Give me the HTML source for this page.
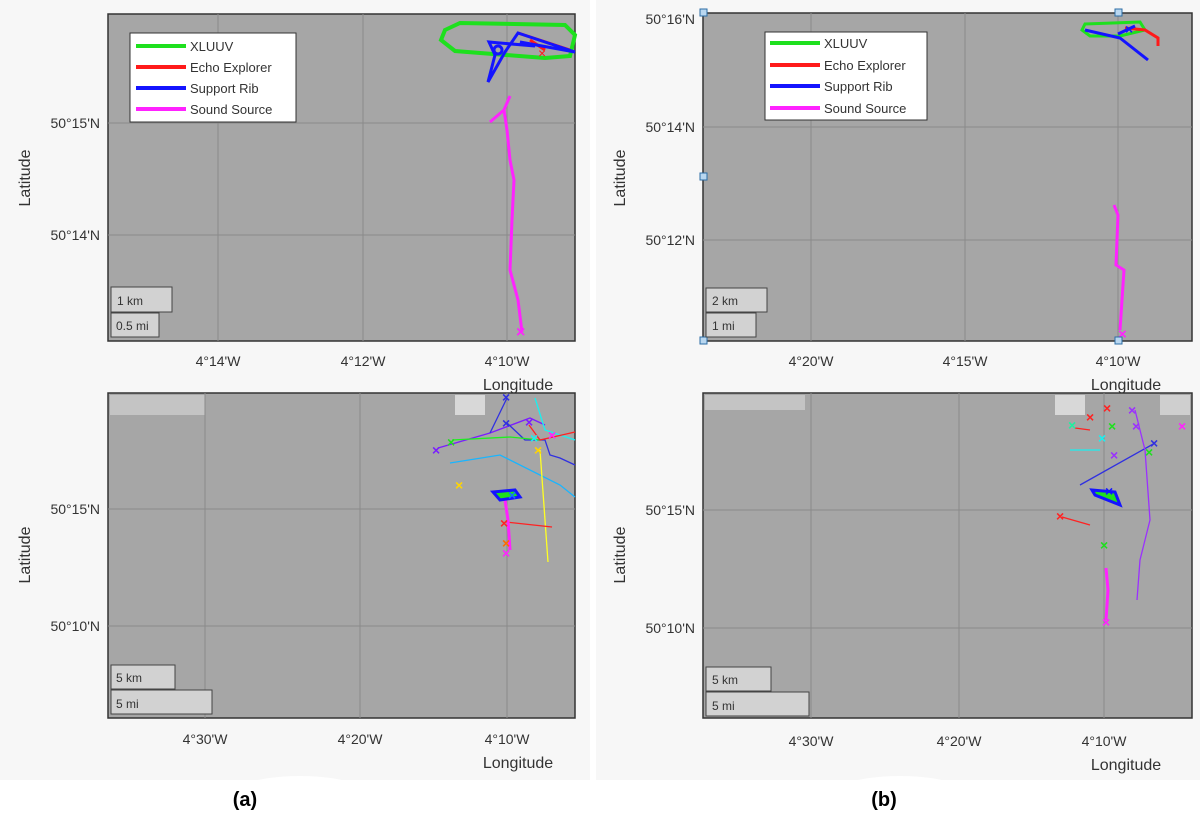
<!DOCTYPE html>
<html><head><meta charset="utf-8"><style>
body{margin:0;width:1200px;height:821px;background:#fff;overflow:hidden}
svg{display:block}
text{font-family:"Liberation Sans",sans-serif;fill:#333}
</style></head><body>
<svg width="1200" height="821" viewBox="0 0 1200 821">
<rect x="0" y="0" width="590" height="780" fill="#f7f7f7"/>
<rect x="596" y="0" width="604" height="780" fill="#f7f7f7"/>
<ellipse cx="300" cy="790" rx="60" ry="14" fill="#fff"/>
<ellipse cx="900" cy="790" rx="60" ry="14" fill="#fff"/>

<!-- Top-left axes -->
<rect x="108" y="14" width="467" height="327" fill="#a6a6a6" stroke="#333" stroke-width="1.5"/>
<g stroke="#8a8a8a" stroke-width="1"><line x1="218" y1="14" x2="218" y2="341"/><line x1="363" y1="14" x2="363" y2="341"/><line x1="507" y1="14" x2="507" y2="341"/><line x1="108" y1="123" x2="575" y2="123"/><line x1="108" y1="235" x2="575" y2="235"/></g>
<path d="M445,30 L460,23 L565,25 L575,35 L570,56 L545,58 L455,51 L441,40 Z" fill="none" stroke="#1ee01e" stroke-width="4"/>
<path d="M518,33 L570,50 M530,40 L545,50" stroke="#ff1a1a" stroke-width="3"/>
<path d="M575,52 L518,33 L505,52 L488,82 L495,55 L489,42 L500,43 L535,46 L520,42 Z" fill="none" stroke="#1414ff" stroke-width="3"/>
<circle cx="498" cy="50" r="4" fill="none" stroke="#1414ff" stroke-width="3"/>
<text x="538" y="58" fill="#ff1a1a" style="fill:#ff1a1a;font-size:14px">×</text>
<path d="M510,96 L504,110 L490,122 M504,110 L507,130 L510,160 L514,180 L512,220 L510,270 L518,300 L522,332" fill="none" stroke="#ff22ff" stroke-width="3"/>
<text x="516" y="337" style="fill:#ff22ff;font-size:16px;font-weight:bold">×</text>
<rect x="130" y="33" width="166" height="89" fill="#fff" stroke="#333"/>
<g stroke-width="4"><line x1="136" y1="46" x2="186" y2="46" stroke="#1ee01e"/><line x1="136" y1="67" x2="186" y2="67" stroke="#ff1a1a"/><line x1="136" y1="88" x2="186" y2="88" stroke="#1414ff"/><line x1="136" y1="109" x2="186" y2="109" stroke="#ff22ff"/></g>
<g font-size="13"><text x="190" y="51">XLUUV</text><text x="190" y="72">Echo Explorer</text><text x="190" y="93">Support Rib</text><text x="190" y="114">Sound Source</text></g>
<rect x="111" y="287" width="61" height="25" fill="#d2d2d2" stroke="#444"/><text x="117" y="305" font-size="12">1 km</text>
<rect x="111" y="313" width="48" height="24" fill="#d2d2d2" stroke="#444"/><text x="116" y="330" font-size="12">0.5 mi</text>
<g font-size="14" text-anchor="end"><text x="100" y="128">50°15'N</text><text x="100" y="240">50°14'N</text></g>
<g font-size="14" text-anchor="middle"><text x="218" y="366">4°14'W</text><text x="363" y="366">4°12'W</text><text x="507" y="366">4°10'W</text></g>
<text x="518" y="390" font-size="16" text-anchor="middle">Longitude</text>
<text transform="translate(30,178) rotate(-90)" font-size="16" text-anchor="middle">Latitude</text>

<!-- Bottom-left axes -->
<rect x="108" y="393" width="467" height="325" fill="#a6a6a6" stroke="#333" stroke-width="1.5"/>
<rect x="110" y="395" width="95" height="20" fill="#c4c4c4"/><rect x="455" y="395" width="30" height="20" fill="#d8d8d8"/>
<g stroke="#8a8a8a"><line x1="205" y1="393" x2="205" y2="718"/><line x1="360" y1="393" x2="360" y2="718"/><line x1="507" y1="393" x2="507" y2="718"/><line x1="108" y1="509" x2="575" y2="509"/><line x1="108" y1="626" x2="575" y2="626"/></g>
<g fill="none" stroke-width="1.3">
<path d="M450,463 L500,455 L560,485 L575,497" stroke="#19b5ff"/>
<path d="M438,448 L490,433 L530,418 L545,425" stroke="#7a1cff"/>
<path d="M507,398 L490,433 M507,423 L525,440 L545,440 L550,455 L560,458 L575,465" stroke="#3030e0"/>
<path d="M452,440 L510,437 L540,440" stroke="#1ef01e"/>
<path d="M535,398 L545,430 L575,440" stroke="#19f0f0"/>
<path d="M540,450 L548,562" stroke="#ffff22"/>
<path d="M506,522 L552,527" stroke="#ff2222"/>
<path d="M529,425 L540,440 L575,432" stroke="#ff2222"/>
</g>
<path d="M505,500 L508,520 L510,550" stroke="#ff22ff" stroke-width="3" fill="none"/>
<path d="M493,492 L515,490 L520,497 L500,500 Z" stroke="#1414ff" stroke-width="3" fill="#1ee01e"/>
<g font-size="14" font-weight="bold" style="font-weight:bold">
<text x="502" y="402" style="fill:#3030e0">×</text><text x="502" y="428" style="fill:#3030e0">×</text>
<text x="432" y="455" style="fill:#7a1cff">×</text><text x="447" y="447" style="fill:#1ee01e">×</text>
<text x="455" y="490" style="fill:#ffd500">×</text><text x="534" y="455" style="fill:#ffd500">×</text>
<text x="530" y="443" style="fill:#19f0f0">×</text><text x="548" y="440" style="fill:#ff22ff">×</text>
<text x="525" y="427" style="fill:#7a1cff">×</text><text x="500" y="528" style="fill:#ff2222">×</text>
<text x="502" y="548" style="fill:#ff6a00">×</text><text x="502" y="558" style="fill:#ff22ff">×</text>
<text x="508" y="500" style="fill:#1470ff">×</text>
</g>
<rect x="111" y="665" width="64" height="24" fill="#d2d2d2" stroke="#444"/><text x="116" y="682" font-size="12">5 km</text>
<rect x="111" y="690" width="101" height="24" fill="#d2d2d2" stroke="#444"/><text x="116" y="708" font-size="12">5 mi</text>
<g font-size="14" text-anchor="end"><text x="100" y="514">50°15'N</text><text x="100" y="631">50°10'N</text></g>
<g font-size="14" text-anchor="middle"><text x="205" y="744">4°30'W</text><text x="360" y="744">4°20'W</text><text x="507" y="744">4°10'W</text></g>
<text x="518" y="768" font-size="16" text-anchor="middle">Longitude</text>
<text transform="translate(30,555) rotate(-90)" font-size="16" text-anchor="middle">Latitude</text>

<!-- Top-right axes -->
<rect x="703" y="13" width="489" height="328" fill="#a6a6a6" stroke="#333" stroke-width="1.5"/>
<g stroke="#8a8a8a"><line x1="811" y1="13" x2="811" y2="341"/><line x1="965" y1="13" x2="965" y2="341"/><line x1="1118" y1="13" x2="1118" y2="341"/><line x1="703" y1="127" x2="1192" y2="127"/><line x1="703" y1="240" x2="1192" y2="240"/></g>
<path d="M1085,24 L1140,22 L1145,30 L1120,36 L1090,36 L1082,30 Z" fill="none" stroke="#1ee01e" stroke-width="3"/>
<path d="M1125,28 L1145,30 L1158,38 L1158,46" fill="none" stroke="#ff1a1a" stroke-width="3"/>
<path d="M1085,30 L1120,38 L1148,60 M1118,34 L1135,26" fill="none" stroke="#1414ff" stroke-width="3"/>
<text x="1125" y="34" font-size="14" style="fill:#1414ff;font-weight:bold">×</text>
<path d="M1114,205 L1118,215 L1116,265 L1124,270 L1122,300 L1120,330" fill="none" stroke="#ff22ff" stroke-width="3"/>
<text x="1118" y="339" font-size="15" style="fill:#ff22ff;font-weight:bold">×</text>
<g fill="#b9d7f0" stroke="#2c6da6"><rect x="700" y="9" width="7" height="7"/><rect x="1115" y="9" width="7" height="7"/><rect x="700" y="173" width="7" height="7"/><rect x="700" y="337" width="7" height="7"/><rect x="1115" y="337" width="7" height="7"/></g>
<rect x="765" y="32" width="162" height="88" fill="#fff" stroke="#333"/>
<g stroke-width="4"><line x1="770" y1="43" x2="820" y2="43" stroke="#1ee01e"/><line x1="770" y1="65" x2="820" y2="65" stroke="#ff1a1a"/><line x1="770" y1="86" x2="820" y2="86" stroke="#1414ff"/><line x1="770" y1="108" x2="820" y2="108" stroke="#ff22ff"/></g>
<g font-size="13"><text x="824" y="48">XLUUV</text><text x="824" y="70">Echo Explorer</text><text x="824" y="91">Support Rib</text><text x="824" y="113">Sound Source</text></g>
<rect x="706" y="288" width="61" height="24" fill="#d2d2d2" stroke="#444"/><text x="712" y="305" font-size="12">2 km</text>
<rect x="706" y="313" width="50" height="24" fill="#d2d2d2" stroke="#444"/><text x="712" y="330" font-size="12">1 mi</text>
<g font-size="14" text-anchor="end"><text x="695" y="24">50°16'N</text><text x="695" y="132">50°14'N</text><text x="695" y="245">50°12'N</text></g>
<g font-size="14" text-anchor="middle"><text x="811" y="366">4°20'W</text><text x="965" y="366">4°15'W</text><text x="1118" y="366">4°10'W</text></g>
<text x="1126" y="390" font-size="16" text-anchor="middle">Longitude</text>
<text transform="translate(625,178) rotate(-90)" font-size="16" text-anchor="middle">Latitude</text>

<!-- Bottom-right axes -->
<rect x="703" y="393" width="489" height="325" fill="#a6a6a6" stroke="#333" stroke-width="1.5"/>
<rect x="705" y="395" width="100" height="15" fill="#c4c4c4"/><rect x="1055" y="395" width="30" height="20" fill="#d8d8d8"/><rect x="1160" y="395" width="30" height="20" fill="#cfcfcf"/>
<g stroke="#8a8a8a"><line x1="811" y1="393" x2="811" y2="718"/><line x1="959" y1="393" x2="959" y2="718"/><line x1="1104" y1="393" x2="1104" y2="718"/><line x1="703" y1="510" x2="1192" y2="510"/><line x1="703" y1="628" x2="1192" y2="628"/></g>
<g fill="none" stroke-width="1.3">
<path d="M1080,485 L1155,443" stroke="#3030e0"/>
<path d="M1135,410 L1145,450 L1150,520 L1140,560 L1137,600" stroke="#9b30ff"/>
<path d="M1070,450 L1100,450" stroke="#19f0f0"/>
<path d="M1062,517 L1090,525" stroke="#ff2222"/>
<path d="M1075,428 L1090,430" stroke="#ff2222"/>
</g>
<path d="M1106,568 L1108,590 L1106,620" stroke="#ff22ff" stroke-width="3" fill="none"/>
<path d="M1092,490 L1115,492 L1120,505 L1095,495 Z" stroke="#1414ff" stroke-width="3" fill="#1ee01e"/>
<g font-size="14" style="font-weight:bold">
<text x="1103" y="413" style="fill:#ff2222">×</text><text x="1086" y="422" style="fill:#ff2222">×</text>
<text x="1068" y="430" style="fill:#1ef0a0">×</text><text x="1108" y="431" style="fill:#1ee01e">×</text>
<text x="1128" y="415" style="fill:#9b30ff">×</text><text x="1132" y="431" style="fill:#9b30ff">×</text>
<text x="1098" y="443" style="fill:#19f0f0">×</text><text x="1150" y="448" style="fill:#3030e0">×</text>
<text x="1145" y="457" style="fill:#1ee01e">×</text><text x="1110" y="460" style="fill:#9b30ff">×</text>
<text x="1178" y="431" style="fill:#ff22ff">×</text><text x="1056" y="521" style="fill:#ff2222">×</text>
<text x="1100" y="550" style="fill:#1ee01e">×</text><text x="1102" y="627" style="fill:#ff22ff">×</text>
<text x="1105" y="496" style="fill:#1414ff">×</text>
</g>
<rect x="706" y="667" width="65" height="24" fill="#d2d2d2" stroke="#444"/><text x="712" y="684" font-size="12">5 km</text>
<rect x="706" y="692" width="103" height="24" fill="#d2d2d2" stroke="#444"/><text x="712" y="710" font-size="12">5 mi</text>
<g font-size="14" text-anchor="end"><text x="695" y="515">50°15'N</text><text x="695" y="633">50°10'N</text></g>
<g font-size="14" text-anchor="middle"><text x="811" y="746">4°30'W</text><text x="959" y="746">4°20'W</text><text x="1104" y="746">4°10'W</text></g>
<text x="1126" y="770" font-size="16" text-anchor="middle">Longitude</text>
<text transform="translate(625,555) rotate(-90)" font-size="16" text-anchor="middle">Latitude</text>

<text x="245" y="806" font-size="20" text-anchor="middle" style="fill:#000;font-weight:bold">(a)</text>
<text x="884" y="806" font-size="20" text-anchor="middle" style="fill:#000;font-weight:bold">(b)</text>
</svg>
</body></html>
